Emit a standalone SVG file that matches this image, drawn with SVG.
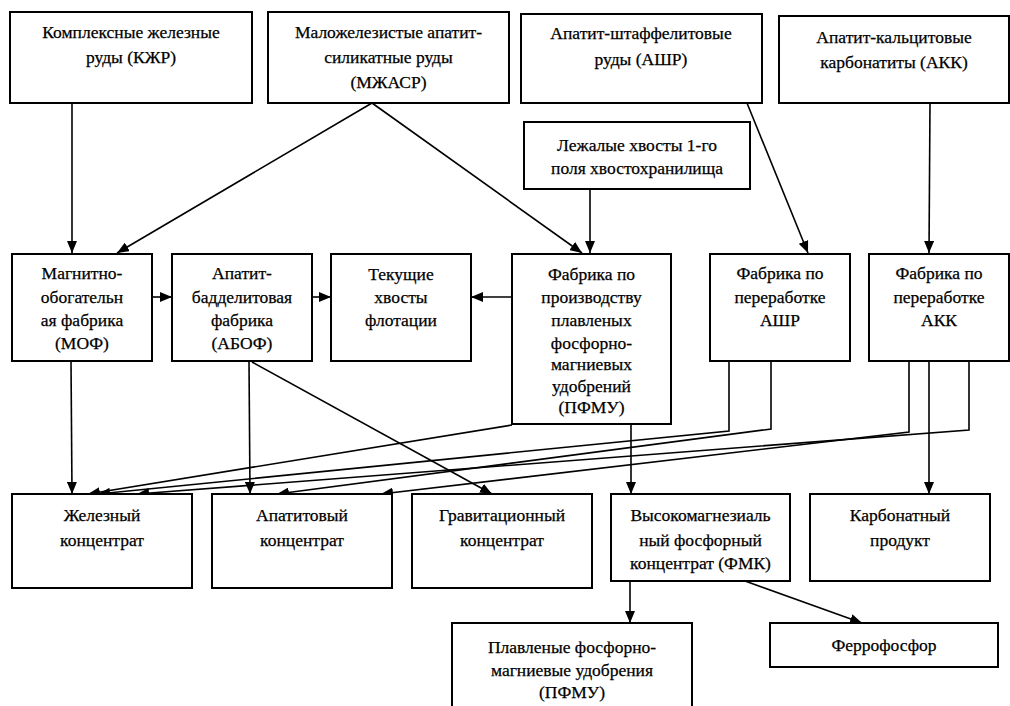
<svg xmlns="http://www.w3.org/2000/svg" width="1010" height="706" viewBox="0 0 1010 706">
<defs>
<marker id="ah" markerUnits="userSpaceOnUse" markerWidth="12" markerHeight="10" refX="12" refY="5" orient="auto">
<path d="M0,0 L12,5 L0,10 z" fill="#000"/>
</marker>
<style>
rect{fill:#fff;stroke:#000;stroke-width:2}
text{font-family:'Liberation Serif','Times New Roman',Times,serif;font-size:17.5px;fill:#000;text-anchor:middle;stroke:#000;stroke-width:0.25}
.c{fill:none;stroke:#000;stroke-width:1.6;marker-end:url(#ah)}
</style>
</defs>
<rect x="0" y="0" width="1010" height="706" style="fill:#fff;stroke:none"/>
<g id="connectors">
<path class="c" d="M72,103 L72,253"/>
<path class="c" d="M372,103 L117,253"/>
<path class="c" d="M372,103 L582,253"/>
<path class="c" d="M590,189 L590,253"/>
<path class="c" d="M747,103 L808,253"/>
<path class="c" d="M930,103 L929,253"/>
<path class="c" d="M152,297 L172,297"/>
<path class="c" d="M312,297 L331,297"/>
<path class="c" d="M512,297 L471,297"/>
<path class="c" d="M71,361 L72,494"/>
<path class="c" d="M249,361 L250,494"/>
<path class="c" d="M252,362 L492,494"/>
<path class="c" d="M631,424 L631,494"/>
<path class="c" d="M512,425 L88,494"/>
<path class="c" d="M729,361 L729,431 L98,494"/>
<path class="c" d="M771,361 L771,429 L277,494"/>
<path class="c" d="M909,361 L909,432 L381,494"/>
<path class="c" d="M929,361 L929,494"/>
<path class="c" d="M969,361 L969,430 L137,494"/>
<path class="c" d="M630,581 L630,623"/>
<path class="c" d="M745,581 L862,623"/>
</g>
<g id="n-kjr"><rect x="10" y="12" width="242" height="91"/><text x="131" y="38">Комплексные железные</text><text x="131" y="63">руды (КЖР)</text></g>
<g id="n-mjasr"><rect x="268" y="12" width="241" height="91"/><text x="388.5" y="38">Маложелезистые апатит-</text><text x="388.5" y="63">силикатные руды</text><text x="388.5" y="88">(МЖАСР)</text></g>
<g id="n-ashr"><rect x="521" y="14" width="241" height="89"/><text x="641" y="39">Апатит-штаффелитовые</text><text x="641" y="65">руды (АШР)</text></g>
<g id="n-akk"><rect x="779" y="16" width="230" height="87"/><text x="894" y="43">Апатит-кальцитовые</text><text x="894" y="68">карбонатиты (АКК)</text></g>
<g id="n-lezh"><rect x="524" y="122" width="226" height="67"/><text x="637" y="151">Лежалые хвосты 1-го</text><text x="637" y="174">поля хвостохранилища</text></g>
<g id="n-mof"><rect x="12" y="254" width="140" height="107"/><text x="82" y="279">Магнитно-</text><text x="82" y="303">обогательн</text><text x="82" y="326">ая фабрика</text><text x="82" y="349">(МОФ)</text></g>
<g id="n-abof"><rect x="172" y="254" width="140" height="107"/><text x="242" y="279">Апатит-</text><text x="242" y="303">бадделитовая</text><text x="242" y="326">фабрика</text><text x="242" y="349">(АБОФ)</text></g>
<g id="n-tek"><rect x="331" y="254" width="140" height="107"/><text x="401" y="280">Текущие</text><text x="401" y="303">хвосты</text><text x="401" y="326">флотации</text></g>
<g id="n-pfmu-f"><rect x="512" y="254" width="159" height="170"/><text x="591.5" y="280">Фабрика по</text><text x="591.5" y="303">производству</text><text x="591.5" y="326">плавленых</text><text x="591.5" y="349">фосфорно-</text><text x="591.5" y="370">магниевых</text><text x="591.5" y="392">удобрений</text><text x="591.5" y="413">(ПФМУ)</text></g>
<g id="n-ashr-f"><rect x="710" y="254" width="140" height="107"/><text x="780" y="279">Фабрика по</text><text x="780" y="303">переработке</text><text x="780" y="326">АШР</text></g>
<g id="n-akk-f"><rect x="869" y="254" width="140" height="107"/><text x="939" y="279">Фабрика по</text><text x="939" y="303">переработке</text><text x="939" y="326">АКК</text></g>
<g id="n-fe"><rect x="12" y="494" width="180" height="94"/><text x="102" y="521">Железный</text><text x="102" y="546">концентрат</text></g>
<g id="n-ap"><rect x="212" y="494" width="180" height="94"/><text x="302" y="521">Апатитовый</text><text x="302" y="546">концентрат</text></g>
<g id="n-grav"><rect x="412" y="494" width="180" height="94"/><text x="502" y="521">Гравитационный</text><text x="502" y="546">концентрат</text></g>
<g id="n-fmk"><rect x="611" y="494" width="179" height="87"/><text x="700.5" y="521">Высокомагнезиаль</text><text x="700.5" y="546">ный фосфорный</text><text x="700.5" y="569">концентрат (ФМК)</text></g>
<g id="n-karb"><rect x="810" y="494" width="180" height="87"/><text x="900" y="521">Карбонатный</text><text x="900" y="546">продукт</text></g>
<g id="n-pfmu"><rect x="452" y="623" width="240" height="100"/><text x="572" y="653">Плавленые фосфорно-</text><text x="572" y="676">магниевые удобрения</text><text x="572" y="698">(ПФМУ)</text></g>
<g id="n-ferro"><rect x="770" y="623" width="228" height="44"/><text x="884" y="651">Феррофосфор</text></g>
</svg>
